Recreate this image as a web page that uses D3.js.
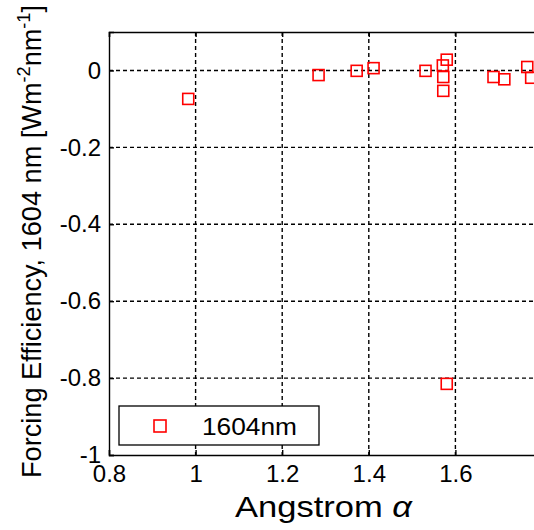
<!DOCTYPE html>
<html>
<head>
<meta charset="utf-8">
<script src="https://cdn.jsdelivr.net/npm/d3@7"></script>
<style>
  body { margin: 0; background: #fff; }
  text { font-family: Arial, "Liberation Sans", sans-serif; fill: #000; }
</style>
</head>
<body>
<svg id="chart" width="534" height="530"></svg>
<script>
// measured points, Angstrom exponent vs forcing efficiency at 1604 nm
var alphaVals = [0.983, 1.284, 1.372, 1.411, 1.531, 1.571, 1.572, 1.580, 1.572, 1.688, 1.713, 1.766, 1.775, 1.580];
var effVals   = [-0.074, -0.012, -0.001, 0.006, -0.001, 0.013, -0.017, 0.028, -0.053, -0.017, -0.023, 0.009, -0.019, -0.815];
var xTicks = [0.8, 1, 1.2, 1.4, 1.6];
var yTicks = [-1, -0.8, -0.6, -0.4, -0.2, 0];
var seriesName = "1604nm";

var plotL = 109, plotR = 542, plotT = 32, plotB = 455;
var svg = d3.select("#chart");

var x = d3.scaleLinear().domain([0.8, 1.8]).range([plotL, plotR]);
var y = d3.scaleLinear().domain([-1, 0.1]).range([plotB, plotT]);

// matlab style labels use a plain hyphen
var fmt = function(d){ return String(d); };

// dashed grid
svg.append("g").selectAll("line")
  .data(xTicks.filter(function(d){ return d > 0.8; }))
  .enter().append("line")
  .attr("x1", function(d){ return x(d); }).attr("x2", function(d){ return x(d); })
  .attr("y1", plotT).attr("y2", plotB)
  .attr("stroke", "#000").attr("stroke-width", 1.4).attr("stroke-dasharray", "4,3");
svg.append("g").selectAll("line")
  .data(yTicks.filter(function(d){ return d > -1; }))
  .enter().append("line")
  .attr("x1", plotL).attr("x2", plotR)
  .attr("y1", function(d){ return y(d); }).attr("y2", function(d){ return y(d); })
  .attr("stroke", "#000").attr("stroke-width", 1.4).attr("stroke-dasharray", "4,3");

// axes
var xAxis = svg.append("g")
  .attr("transform", "translate(0," + plotB + ")")
  .call(d3.axisBottom(x).tickValues(xTicks).tickSize(-5).tickPadding(10).tickFormat(fmt));
var xTop = svg.append("g")
  .attr("transform", "translate(0," + plotT + ")")
  .call(d3.axisTop(x).tickValues(xTicks).tickSize(-5).tickFormat(""));
var yAxis = svg.append("g")
  .attr("transform", "translate(" + plotL + ",0)")
  .call(d3.axisLeft(y).tickValues(yTicks).tickSize(-5).tickPadding(8).tickFormat(fmt));

[xAxis, xTop, yAxis].forEach(function(g){
  g.select(".domain").attr("stroke", "#000").attr("stroke-width", 1.4);
  g.selectAll(".tick line").attr("stroke", "#000").attr("stroke-width", 1.4);
  g.selectAll("text").attr("font-size", 24).attr("font-family", "Arial, 'Liberation Sans', sans-serif").attr("fill", "#000");
});

// markers
var sz = 11;
svg.append("g").selectAll("rect")
  .data(alphaVals.map(function(a, i){ return [a, effVals[i]]; }))
  .enter().append("rect")
  .attr("x", function(d){ return x(d[0]) - sz / 2; })
  .attr("y", function(d){ return y(d[1]) - sz / 2; })
  .attr("width", sz).attr("height", sz)
  .attr("fill", "none").attr("stroke", "#ff0000").attr("stroke-width", 1.6);

// legend
var lg = svg.append("g");
lg.append("rect").attr("x", 119).attr("y", 406).attr("width", 200).attr("height", 39)
  .attr("fill", "#fff").attr("stroke", "#000").attr("stroke-width", 1.3);
lg.append("rect").attr("x", 160 - 6).attr("y", 426 - 6).attr("width", 12).attr("height", 12)
  .attr("fill", "none").attr("stroke", "#ff0000").attr("stroke-width", 1.6);
lg.append("text").attr("x", 202).attr("y", 435).attr("font-size", 24)
  .attr("textLength", 95).attr("lengthAdjust", "spacingAndGlyphs").text(seriesName);

// x label
var xl = svg.append("text").attr("x", 235).attr("y", 517).attr("font-size", 29)
  .attr("textLength", 177).attr("lengthAdjust", "spacingAndGlyphs");
xl.append("tspan").text("Angstrom ");
xl.append("tspan").attr("font-style", "italic").text("\u03b1");

// y label
var yl = svg.append("text")
  .attr("transform", "translate(41,478) rotate(-90)")
  .attr("font-size", 27)
  .attr("textLength", 473).attr("lengthAdjust", "spacingAndGlyphs");
yl.append("tspan").text("Forcing Efficiency, 1604 nm [Wm");
yl.append("tspan").attr("font-size", 18).attr("dy", -11).text("-2");
yl.append("tspan").attr("dy", 11).text("nm");
yl.append("tspan").attr("font-size", 18).attr("dy", -11).text("-1");
yl.append("tspan").attr("dy", 11).text("]");
</script>
</body>
</html>
